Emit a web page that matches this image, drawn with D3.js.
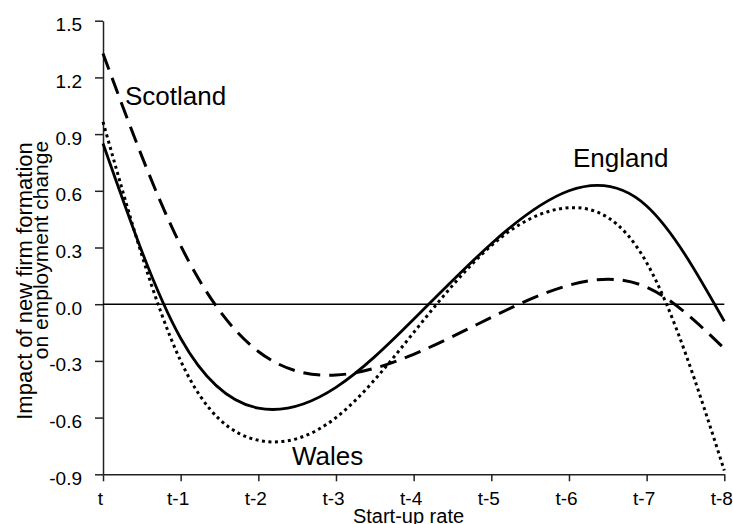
<!DOCTYPE html>
<html lang="en">
<head>
<meta charset="utf-8">
<title>Start-up rate impact</title>
<script src="https://d3js.org/d3.v7.min.js"></script>
<style>
  body { margin: 0; background: #fff; }
  svg { font-family: "Liberation Sans", Arial, sans-serif; }
  .axis path, .axis line { stroke: #222; stroke-width: 1.5; }
  .axis text { font-size: 19px; fill: #000; }
  .title { font-size: 20px; fill: #000; }
  .region { font-size: 26px; fill: #000; }
</style>
</head>
<body>
<script>
// lag categories on the x axis
var lags = ["t", "t-1", "t-2", "t-3", "t-4", "t-5", "t-6", "t-7", "t-8"];

// estimated impact at each lag
var england  = [0.85, -0.18, -0.55, -0.44, -0.08, 0.32, 0.60, 0.52, -0.09];
var wales    = [0.965, -0.30, -0.72, -0.60, -0.15, 0.31, 0.51, 0.22, -0.88];
var scotland = [1.327, 0.31, -0.25, -0.375, -0.265, -0.07, 0.10, 0.09, -0.235];

var yTicks = [-0.9, -0.6, -0.3, 0.0, 0.3, 0.6, 0.9, 1.2, 1.5];

var width = 733, height = 524;

var svg = d3.select("body").append("svg")
    .attr("width", width)
    .attr("height", height);

var x = d3.scalePoint()
    .domain(lags)
    .range([103, 724.3]);

var y = d3.scaleLinear()
    .domain([-0.9, 1.5])
    .range([474.3, 20.7]);

// y axis
var yAxis = svg.append("g")
    .attr("class", "axis")
    .attr("transform", "translate(103,0)")
    .call(d3.axisLeft(y)
      .tickValues(yTicks)
      .tickSize(8)
      .tickSizeOuter(0)
      .tickPadding(13)
      .tickFormat(function(d) { return d.toFixed(1); }));
yAxis.selectAll("text").attr("dy", null).attr("y", 10);

// x axis
var xAxis = svg.append("g")
    .attr("class", "axis")
    .attr("transform", "translate(0,474.3)")
    .call(d3.axisBottom(x).tickSize(7).tickSizeOuter(0));
xAxis.selectAll("text").attr("dy", null).attr("y", 31).attr("dx", -3);

// zero line
svg.append("line")
    .attr("x1", x("t")).attr("x2", x("t-8"))
    .attr("y1", y(0)).attr("y2", y(0))
    .attr("stroke", "#000")
    .attr("stroke-width", 1.4);

var line = d3.line()
    .x(function(d, i) { return x(lags[i]); })
    .y(function(d) { return y(d); })
    .curve(d3.curveNatural);

var series = [
  { name: "England",  values: england,  dash: null,    w: 2.8 },
  { name: "Scotland", values: scotland, dash: "17,9",  w: 3 },
  { name: "Wales",    values: wales,    dash: "3,3.5", w: 3 }
];

svg.selectAll(".series")
    .data(series)
  .enter().append("path")
    .attr("class", "series")
    .attr("d", function(d) { return line(d.values); })
    .attr("fill", "none")
    .attr("stroke", "#000")
    .attr("stroke-width", function(d) { return d.w; })
    .attr("stroke-dasharray", function(d) { return d.dash; });

// region labels
svg.append("text").attr("class", "region").attr("x", 125).attr("y", 105).text("Scotland");
svg.append("text").attr("class", "region").attr("x", 573).attr("y", 167).text("England");
svg.append("text").attr("class", "region").attr("x", 292).attr("y", 465).text("Wales");

// axis titles
svg.append("text")
    .attr("class", "title")
    .attr("text-anchor", "middle")
    .attr("x", 408.5).attr("y", 523)
    .text("Start-up rate");

svg.append("text")
    .attr("class", "title")
    .attr("text-anchor", "middle")
    .attr("transform", "translate(31.5,281) rotate(-90)")
    .style("font-size", "22px")
    .text("Impact of new firm formation");

svg.append("text")
    .attr("class", "title")
    .attr("text-anchor", "middle")
    .attr("transform", "translate(48,250) rotate(-90)")
    .style("font-size", "21px")
    .text("on employment change");
</script>
</body>
</html>
